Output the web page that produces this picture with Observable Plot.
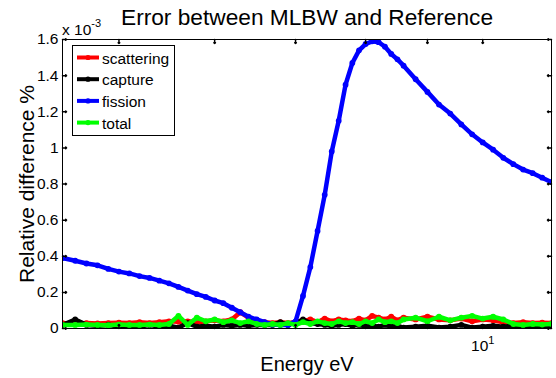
<!DOCTYPE html>
<html>
<head>
<meta charset="utf-8">
<script src="https://cdn.jsdelivr.net/npm/d3@7"></script>
<script src="https://cdn.jsdelivr.net/npm/@observablehq/plot@0.6"></script>
<style>
  html, body { margin: 0; padding: 0; background: #fff; }
  #chart { width: 556px; height: 378px; }
  svg { font-family: "Liberation Sans", Arial, sans-serif; }
</style>
</head>
<body>
<div id="chart"></div>
<script>
// Neutron energy grid (eV)
const energy = [4.49, 4.6, 4.7, 4.8, 4.9, 5.0, 5.1, 5.2, 5.3, 5.4, 5.5, 5.6, 5.7, 5.8, 5.9, 6.0,
  6.1, 6.2, 6.3, 6.4, 6.5, 6.6, 6.7, 6.8, 6.9, 7.0, 7.1, 7.2, 7.3, 7.4, 7.5, 7.6, 7.7, 7.8, 7.9, 8.0,
  8.1, 8.2, 8.3, 8.4, 8.5, 8.6, 8.8, 9.0, 9.2, 9.4, 9.6, 9.8, 10.0, 10.2, 10.4, 10.6, 10.8, 11.0, 11.2, 11.4];

// Relative difference, in units of 1e-3 %
const scattering = [0.03, 0.025, 0.03, 0.028, 0.03, 0.032, 0.03, 0.035, 0.03, 0.035, 0.04, 0.038, 0.04, 0.035, 0.04, 0.045,
  0.04, 0.05, 0.09, 0.06, 0.04, 0.035, 0.03, 0.035, 0.03, 0.035, 0.04, 0.05, 0.035, 0.055, 0.04, 0.05, 0.045, 0.04, 0.055, 0.045,
  0.07, 0.06, 0.05, 0.065, 0.045, 0.06, 0.05, 0.065, 0.05, 0.045, 0.055, 0.04, 0.05, 0.045, 0.035, 0.03, 0.035, 0.03, 0.032, 0.03];

const capture = [0.02, 0.05, 0.02, 0.015, 0.02, 0.01, 0.015, 0.01, 0.02, 0.01, 0.015, 0.005, 0.03, 0.01, 0.015, 0.01,
  0.02, 0.015, 0.02, 0.015, 0.02, 0.02, 0.02, 0.035, 0.02, 0.03, 0.05, 0.03, 0.025, 0.02, 0.015, 0.02, 0.025, 0.015, 0.02, 0.01,
  0.015, 0.01, 0.02, 0.01, 0.015, 0.005, 0.01, 0.015, 0.005, 0.01, 0.02, 0.005, 0.01, 0.015, 0.01, 0.015, 0.01, 0.012, 0.01, 0.012];

const fission = [0.39, 0.375, 0.36, 0.35, 0.33, 0.315, 0.305, 0.29, 0.28, 0.265, 0.25, 0.23, 0.21, 0.19, 0.175, 0.155,
  0.14, 0.115, 0.09, 0.065, 0.05, 0.035, 0.022, 0.02, 0.02, 0.04, 0.18, 0.34, 0.54, 0.74, 0.98, 1.15, 1.35, 1.47, 1.54, 1.575,
  1.59, 1.585, 1.56, 1.52, 1.49, 1.455, 1.38, 1.31, 1.24, 1.19, 1.13, 1.075, 1.03, 0.99, 0.945, 0.91, 0.88, 0.86, 0.835, 0.81];

const total = [0.02, 0.02, 0.022, 0.02, 0.018, 0.022, 0.02, 0.02, 0.022, 0.02, 0.025, 0.07, 0.02, 0.06, 0.04, 0.05,
  0.035, 0.045, 0.03, 0.04, 0.025, 0.02, 0.025, 0.02, 0.03, 0.02, 0.035, 0.025, 0.04, 0.03, 0.025, 0.04, 0.03, 0.035, 0.025, 0.04,
  0.03, 0.05, 0.035, 0.04, 0.03, 0.05, 0.06, 0.04, 0.065, 0.045, 0.06, 0.07, 0.055, 0.065, 0.05, 0.025, 0.02, 0.025, 0.022, 0.025];

const seriesNames = ["scattering", "capture", "fission", "total"];
const seriesColors = ["#ff0000", "#000000", "#0000ff", "#00ff00"];
const seriesValues = [scattering, capture, fission, total];

const yTicks = [0, 0.2, 0.4, 0.6, 0.8, 1, 1.2, 1.4, 1.6];
const xTicks = [5, 6, 7, 8, 9, 10];
const xLabelTicks = [10];

const titleText = "Error between MLBW and Reference";
const xLabel = "Energy eV";
const yLabel = "Relative difference %";

// Long-format rows for Plot
const rows = [];
seriesValues.forEach((vals, s) => {
  vals.forEach((v, i) => rows.push({series: seriesNames[s], energy: energy[i], value: v}));
});

// One line + dot layer per series, drawn in order so "total" ends on top
const seriesMarks = seriesNames.flatMap((name) => {
  const data = rows.filter((d) => d.series === name);
  return [
    Plot.line(data, {x: "energy", y: "value", stroke: "series", strokeWidth: 4.5, clip: true}),
    Plot.dot(data, {x: "energy", y: "value", fill: "series", r: 2.9, clip: true})
  ];
});

const tickLen = 4;
const font = '"Liberation Sans", Arial, sans-serif';

const chart = Plot.plot({
  width: 556,
  height: 378,
  marginLeft: 62,
  marginRight: 5,
  marginTop: 39,
  marginBottom: 50,
  style: {fontFamily: font, fontSize: "15.5px", background: "white", color: "black"},
  x: {type: "log", domain: [4.49, 11.4]},
  y: {domain: [0, 1.6]},
  color: {domain: seriesNames, range: seriesColors},
  marks: [
    ...seriesMarks,
    Plot.frame({stroke: "black", strokeWidth: 1}),
    // inward tick marks on all four sides
    Plot.vector(yTicks, {y: (d) => d, frameAnchor: "left", rotate: 90, length: tickLen, anchor: "start", stroke: "black"}),
    Plot.vector(yTicks, {y: (d) => d, frameAnchor: "right", rotate: -90, length: tickLen, anchor: "start", stroke: "black"}),
    Plot.vector(xTicks, {x: (d) => d, frameAnchor: "bottom", rotate: 0, length: tickLen, anchor: "start", stroke: "black"}),
    Plot.vector(xTicks, {x: (d) => d, frameAnchor: "top", rotate: 180, length: tickLen, anchor: "start", stroke: "black"}),
    Plot.axisY(yTicks, {tickSize: 0, tickPadding: 4, tickFormat: (d) => String(d), label: null, fontSize: 15.5}),
    Plot.axisX(xLabelTicks, {tickSize: 0, tickPadding: 11, tickFormat: () => "10", label: null, fontSize: 15.5}),
    Plot.text([titleText], {frameAnchor: "top", dy: -21.5, fontSize: 22.7, textAnchor: "middle", lineAnchor: "middle", text: (d) => d}),
    Plot.text([xLabel], {frameAnchor: "bottom", dy: 35.6, fontSize: 20, textAnchor: "middle", lineAnchor: "middle", text: (d) => d}),
    Plot.text([yLabel], {frameAnchor: "left", dx: -35.5, rotate: -90, fontSize: 21, textAnchor: "middle", lineAnchor: "middle", text: (d) => d})
  ]
});

document.getElementById("chart").appendChild(chart);

const svg = d3.select(chart);

// decade exponent on the x tick label
svg.selectAll('g[aria-label="x-axis tick label"] text').each(function () {
  d3.select(this).append("tspan").attr("dy", "-0.55em").style("font-size", "11px").text("1");
});

// y-axis multiplier
const mult = svg.append("text")
  .attr("x", 62).attr("y", 35)
  .style("font-family", font).style("font-size", "15.5px").style("text-anchor", "start")
  .attr("fill", "black");
mult.append("tspan").text("x 10");
mult.append("tspan").attr("dy", -8).style("font-size", "11px").text("-3");

// legend box
const legend = svg.append("g");
legend.append("rect")
  .attr("x", 72.5).attr("y", 45.5).attr("width", 102).attr("height", 90)
  .attr("fill", "white").attr("stroke", "black").attr("stroke-width", 1);
seriesNames.forEach((name, i) => {
  const cy = 57.5 + i * 21.7;
  legend.append("line")
    .attr("x1", 77).attr("x2", 99).attr("y1", cy).attr("y2", cy)
    .attr("stroke", seriesColors[i]).attr("stroke-width", 4);
  legend.append("circle").attr("cx", 88).attr("cy", cy).attr("r", 2.6).attr("fill", seriesColors[i]);
  legend.append("text")
    .attr("x", 102).attr("y", cy + 6)
    .style("font-family", font).style("font-size", "15.5px").style("text-anchor", "start")
    .attr("fill", "black").text(name);
});
</script>
</body>
</html>
